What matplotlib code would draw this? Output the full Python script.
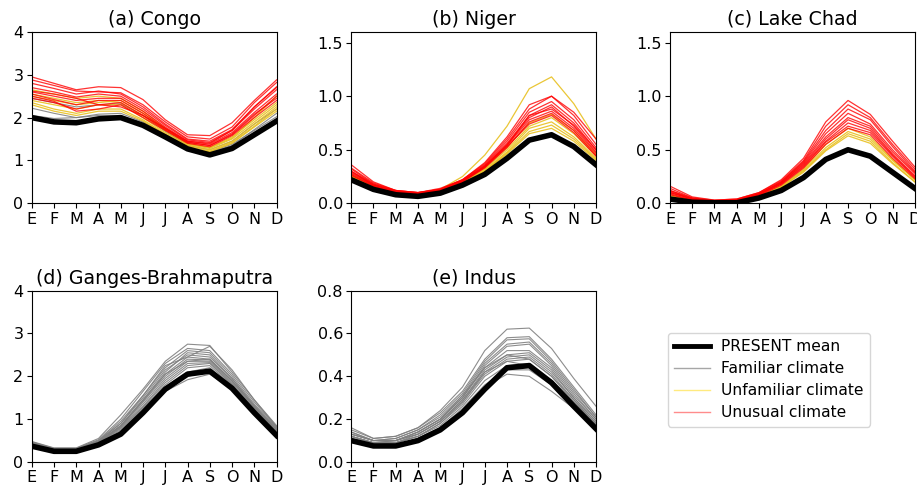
import matplotlib
matplotlib.use("Agg")
import matplotlib.pyplot as plt

#####################################
##          DATA                   ##
#####################################
months = ["E", "F", "M", "A", "M", "J", "J", "A", "S", "O", "N", "D"]

# (a) Congo
congo_present = [2.0, 1.9, 1.88, 1.97, 2.0, 1.82, 1.55, 1.27, 1.13, 1.28, 1.6, 1.92]
congo_familiar = [
    [2.22, 2.1, 2.0, 2.08, 2.1, 1.9, 1.6, 1.3, 1.18, 1.35, 1.72, 2.1],
    [2.05, 1.98, 2.0, 2.05, 2.05, 1.85, 1.58, 1.28, 1.2, 1.38, 1.7, 2.02],
    [2.45, 2.35, 2.25, 2.3, 2.32, 2.05, 1.68, 1.35, 1.25, 1.45, 1.85, 2.2],
]
congo_unfamiliar = [
    [2.65, 2.55, 2.45, 2.5, 2.45, 2.15, 1.75, 1.4, 1.3, 1.55, 1.95, 2.35],
    [2.55, 2.45, 2.35, 2.4, 2.35, 2.05, 1.7, 1.38, 1.28, 1.5, 1.9, 2.3],
    [2.4, 2.3, 2.2, 2.3, 2.3, 2.0, 1.65, 1.35, 1.25, 1.45, 1.85, 2.25],
    [2.35, 2.2, 2.1, 2.2, 2.2, 1.95, 1.62, 1.33, 1.22, 1.42, 1.8, 2.2],
    [2.3, 2.15, 2.05, 2.15, 2.15, 1.92, 1.6, 1.3, 1.2, 1.4, 1.78, 2.15],
    [2.5, 2.4, 2.3, 2.35, 2.4, 2.1, 1.72, 1.38, 1.3, 1.52, 2.0, 2.5],
]
congo_unusual = [
    [2.95, 2.8, 2.65, 2.72, 2.7, 2.42, 1.95, 1.6, 1.58, 1.88, 2.4, 2.88],
    [2.88, 2.75, 2.62, 2.6, 2.58, 2.3, 1.9, 1.55, 1.5, 1.78, 2.35, 2.82],
    [2.8, 2.68, 2.55, 2.62, 2.55, 2.25, 1.85, 1.5, 1.45, 1.72, 2.25, 2.72],
    [2.7, 2.6, 2.48, 2.55, 2.5, 2.2, 1.82, 1.48, 1.42, 1.7, 2.2, 2.65],
    [2.6, 2.5, 2.4, 2.45, 2.45, 2.15, 1.78, 1.45, 1.38, 1.65, 2.12, 2.55],
    [2.55, 2.42, 2.3, 2.4, 2.4, 2.1, 1.75, 1.43, 1.35, 1.6, 2.05, 2.5],
    [2.45, 2.35, 2.2, 2.3, 2.35, 2.05, 1.72, 1.42, 1.35, 1.62, 2.08, 2.45],
    [2.62, 2.55, 2.45, 2.3, 2.25, 2.05, 1.75, 1.45, 1.4, 1.7, 2.25, 2.7],
    [2.5, 2.38, 2.15, 2.2, 2.3, 2.0, 1.7, 1.4, 1.32, 1.58, 2.0, 2.4],
]

# (b) Niger
niger_present = [0.22, 0.13, 0.08, 0.065, 0.095, 0.17, 0.27, 0.42, 0.59, 0.64, 0.53, 0.36]
niger_unfamiliar = [
    [0.25, 0.15, 0.1, 0.09, 0.13, 0.25, 0.45, 0.72, 1.07, 1.18, 0.93, 0.6],
    [0.26, 0.15, 0.1, 0.09, 0.12, 0.19, 0.32, 0.5, 0.72, 0.8, 0.65, 0.44],
    [0.25, 0.15, 0.1, 0.08, 0.12, 0.19, 0.31, 0.48, 0.7, 0.76, 0.62, 0.42],
    [0.25, 0.14, 0.09, 0.08, 0.11, 0.19, 0.3, 0.47, 0.67, 0.73, 0.6, 0.41],
    [0.24, 0.14, 0.09, 0.08, 0.11, 0.18, 0.3, 0.46, 0.65, 0.7, 0.58, 0.4],
    [0.27, 0.16, 0.1, 0.09, 0.12, 0.2, 0.33, 0.52, 0.75, 0.83, 0.68, 0.46],
]
niger_unusual = [
    [0.36, 0.2, 0.12, 0.1, 0.14, 0.22, 0.38, 0.62, 0.92, 1.0, 0.85, 0.6],
    [0.33, 0.19, 0.12, 0.1, 0.13, 0.22, 0.37, 0.6, 0.88, 1.0, 0.82, 0.55],
    [0.3, 0.18, 0.11, 0.1, 0.13, 0.22, 0.36, 0.58, 0.85, 0.95, 0.78, 0.52],
    [0.3, 0.17, 0.11, 0.09, 0.13, 0.21, 0.35, 0.56, 0.82, 0.92, 0.75, 0.5],
    [0.28, 0.17, 0.11, 0.09, 0.12, 0.21, 0.35, 0.55, 0.8, 0.9, 0.72, 0.48],
    [0.27, 0.16, 0.1, 0.09, 0.12, 0.2, 0.34, 0.54, 0.78, 0.86, 0.7, 0.47],
    [0.26, 0.16, 0.1, 0.09, 0.12, 0.2, 0.33, 0.52, 0.76, 0.84, 0.68, 0.45],
    [0.29, 0.17, 0.11, 0.09, 0.12, 0.21, 0.34, 0.53, 0.74, 0.82, 0.66, 0.44],
    [0.32, 0.18, 0.12, 0.1, 0.13, 0.21, 0.34, 0.54, 0.82, 0.88, 0.73, 0.5],
]

# (c) Lake Chad
chad_present = [0.04, 0.01, 0.005, 0.005, 0.05, 0.12, 0.24, 0.41, 0.5, 0.44, 0.29, 0.14]
chad_unfamiliar = [
    [0.07, 0.03, 0.01, 0.02, 0.07, 0.16, 0.31, 0.52, 0.67, 0.6, 0.4, 0.22],
    [0.06, 0.02, 0.01, 0.02, 0.06, 0.15, 0.3, 0.5, 0.65, 0.58, 0.38, 0.2],
    [0.06, 0.02, 0.01, 0.02, 0.06, 0.15, 0.29, 0.49, 0.63, 0.56, 0.37, 0.2],
    [0.08, 0.03, 0.02, 0.02, 0.07, 0.16, 0.32, 0.55, 0.7, 0.62, 0.41, 0.22],
]
chad_unusual = [
    [0.16, 0.06, 0.03, 0.04, 0.1, 0.22, 0.42, 0.76, 0.96, 0.83, 0.58, 0.34],
    [0.14, 0.05, 0.03, 0.04, 0.1, 0.21, 0.4, 0.72, 0.92, 0.8, 0.55, 0.32],
    [0.12, 0.05, 0.02, 0.03, 0.09, 0.2, 0.39, 0.68, 0.88, 0.78, 0.53, 0.3],
    [0.12, 0.04, 0.02, 0.03, 0.09, 0.2, 0.38, 0.65, 0.84, 0.74, 0.5, 0.29],
    [0.11, 0.04, 0.02, 0.03, 0.09, 0.19, 0.37, 0.62, 0.8, 0.72, 0.48, 0.28],
    [0.1, 0.04, 0.02, 0.03, 0.08, 0.19, 0.36, 0.6, 0.78, 0.7, 0.46, 0.26],
    [0.1, 0.04, 0.02, 0.03, 0.08, 0.18, 0.35, 0.58, 0.75, 0.68, 0.45, 0.25],
    [0.09, 0.03, 0.02, 0.03, 0.08, 0.18, 0.34, 0.57, 0.72, 0.66, 0.44, 0.24],
    [0.08, 0.03, 0.02, 0.02, 0.07, 0.17, 0.33, 0.55, 0.7, 0.64, 0.42, 0.23],
]

# (d) Ganges-Brahmaputra
ganges_present = [0.37, 0.25, 0.25, 0.4, 0.65, 1.15, 1.7, 2.05, 2.12, 1.72, 1.15, 0.62]
ganges_familiar = [
    [0.48, 0.33, 0.33, 0.55, 1.1, 1.7, 2.35, 2.75, 2.72, 2.1, 1.45, 0.85],
    [0.47, 0.32, 0.32, 0.52, 1.0, 1.65, 2.3, 2.65, 2.6, 2.05, 1.4, 0.82],
    [0.46, 0.31, 0.31, 0.5, 0.95, 1.55, 2.2, 2.6, 2.55, 2.0, 1.35, 0.8],
    [0.45, 0.3, 0.3, 0.48, 0.9, 1.5, 2.15, 2.5, 2.45, 1.95, 1.32, 0.78],
    [0.44, 0.3, 0.3, 0.47, 0.85, 1.45, 2.05, 2.45, 2.4, 1.9, 1.3, 0.76],
    [0.43, 0.29, 0.29, 0.46, 0.82, 1.4, 2.0, 2.4, 2.38, 1.88, 1.28, 0.74],
    [0.42, 0.28, 0.29, 0.45, 0.8, 1.35, 1.95, 2.35, 2.35, 1.85, 1.25, 0.72],
    [0.41, 0.28, 0.28, 0.44, 0.78, 1.3, 1.9, 2.3, 2.32, 1.82, 1.22, 0.7],
    [0.4, 0.27, 0.28, 0.43, 0.75, 1.28, 1.85, 2.25, 2.3, 1.8, 1.2, 0.68],
    [0.39, 0.27, 0.27, 0.42, 0.72, 1.25, 1.8, 2.2, 2.25, 1.78, 1.18, 0.66],
    [0.38, 0.26, 0.27, 0.41, 0.7, 1.2, 1.75, 2.1, 2.2, 1.75, 1.15, 0.64],
    [0.37, 0.26, 0.26, 0.4, 0.68, 1.15, 1.7, 2.0, 2.1, 1.72, 1.12, 0.62],
    [0.36, 0.25, 0.26, 0.39, 0.65, 1.1, 1.65, 1.92, 2.05, 1.7, 1.1, 0.6],
    [0.44, 0.3, 0.3, 0.5, 0.9, 1.55, 2.25, 2.45, 2.7, 2.15, 1.45, 0.82],
    [0.43, 0.29, 0.3, 0.47, 0.85, 1.45, 2.1, 2.55, 2.5, 1.95, 1.3, 0.75],
    [0.42, 0.29, 0.29, 0.46, 0.84, 1.42, 2.05, 2.35, 2.4, 1.9, 1.27, 0.73],
]

# (e) Indus
indus_present = [0.1, 0.075, 0.075, 0.1, 0.15, 0.23, 0.34, 0.44, 0.45, 0.37, 0.26, 0.155]
indus_familiar = [
    [0.16, 0.11, 0.12, 0.16, 0.24, 0.35, 0.52, 0.62, 0.625, 0.53, 0.39, 0.26],
    [0.15, 0.11, 0.12, 0.16, 0.23, 0.33, 0.48, 0.58, 0.585, 0.48, 0.35, 0.22],
    [0.14, 0.1, 0.11, 0.15, 0.22, 0.32, 0.47, 0.57, 0.575, 0.47, 0.34, 0.21],
    [0.14, 0.1, 0.11, 0.15, 0.21, 0.31, 0.46, 0.55, 0.56, 0.46, 0.33, 0.21],
    [0.13, 0.1, 0.1, 0.14, 0.2, 0.3, 0.45, 0.54, 0.55, 0.45, 0.32, 0.2],
    [0.13, 0.1, 0.1, 0.14, 0.2, 0.3, 0.44, 0.52, 0.52, 0.44, 0.31, 0.2],
    [0.12, 0.09, 0.1, 0.13, 0.19, 0.29, 0.43, 0.5, 0.51, 0.43, 0.3, 0.19],
    [0.12, 0.09, 0.1, 0.13, 0.19, 0.28, 0.42, 0.49, 0.5, 0.42, 0.3, 0.19],
    [0.12, 0.09, 0.09, 0.12, 0.18, 0.28, 0.41, 0.48, 0.49, 0.41, 0.29, 0.18],
    [0.11, 0.09, 0.09, 0.12, 0.18, 0.27, 0.4, 0.47, 0.48, 0.4, 0.28, 0.18],
    [0.11, 0.08, 0.09, 0.12, 0.17, 0.26, 0.38, 0.45, 0.46, 0.38, 0.27, 0.17],
    [0.11, 0.08, 0.08, 0.11, 0.16, 0.25, 0.36, 0.43, 0.43, 0.36, 0.26, 0.17],
    [0.1, 0.08, 0.08, 0.11, 0.16, 0.24, 0.35, 0.41, 0.4, 0.33, 0.25, 0.16],
    [0.13, 0.1, 0.1, 0.14, 0.2, 0.31, 0.44, 0.5, 0.48, 0.4, 0.29, 0.18],
    [0.12, 0.09, 0.09, 0.13, 0.19, 0.29, 0.42, 0.47, 0.45, 0.38, 0.28, 0.17],
]

#####################################
##            Plot                 ##
#####################################
FS = 11.5
col_fam = "grey"
col_unf = "#e8c020"
col_unu = "red"

fig = plt.figure(figsize=(9.17, 4.87), dpi=100)
w, h = 0.267, 0.352
ax_a = fig.add_axes([0.0346, 0.5825, w, h])
ax_b = fig.add_axes([0.383, 0.5825, w, h])
ax_c = fig.add_axes([0.7306, 0.5825, w, h])
ax_d = fig.add_axes([0.0346, 0.0513, w, h])
ax_e = fig.add_axes([0.383, 0.0513, w, h])

x = list(range(12))


def draw(ax, title, present, ylim, yticks, familiar=(), unfamiliar=(), unusual=()):
    for s in familiar:
        ax.plot(x, s, color=col_fam, lw=0.8, alpha=0.9)
    for s in unfamiliar:
        ax.plot(x, s, color=col_unf, lw=0.9, alpha=0.9)
    for s in unusual:
        ax.plot(x, s, color=col_unu, lw=0.9, alpha=0.8)
    ax.plot(x, present, color="black", lw=4, zorder=5)
    ax.set_xlim(0, 11)
    ax.set_ylim(*ylim)
    ax.set_yticks(yticks)
    ax.set_xticks(x)
    ax.set_xticklabels(months)
    ax.tick_params(labelsize=FS, pad=2.5)
    ax.set_title(title, fontsize=13.7, pad=5)


draw(ax_a, "(a) Congo", congo_present, (0, 4), [0, 1, 2, 3, 4],
     congo_familiar, congo_unfamiliar, congo_unusual)
draw(ax_b, "(b) Niger", niger_present, (0, 1.6), [0.0, 0.5, 1.0, 1.5],
     (), niger_unfamiliar, niger_unusual)
draw(ax_c, "(c) Lake Chad", chad_present, (0, 1.6), [0.0, 0.5, 1.0, 1.5],
     (), chad_unfamiliar, chad_unusual)
draw(ax_d, "(d) Ganges-Brahmaputra", ganges_present, (0, 4), [0, 1, 2, 3, 4],
     ganges_familiar)
draw(ax_e, "(e) Indus", indus_present, (0, 0.8), [0.0, 0.2, 0.4, 0.6, 0.8],
     indus_familiar)
ax_b.set_yticklabels(["0.0", "0.5", "1.0", "1.5"])
ax_c.set_yticklabels(["0.0", "0.5", "1.0", "1.5"])

# legend
handles = [
    plt.Line2D([], [], color="black", lw=3.5),
    plt.Line2D([], [], color="grey", lw=1, alpha=0.7),
    plt.Line2D([], [], color="gold", lw=1, alpha=0.5),
    plt.Line2D([], [], color="red", lw=1, alpha=0.45),
]
labels = ["PRESENT mean", "Familiar climate", "Unfamiliar climate", "Unusual climate"]
fig.legend(handles, labels, loc="upper left", bbox_to_anchor=(0.7285, 0.316),
           borderaxespad=0, fontsize=11.2, handlelength=2.3, labelspacing=0.45,
           borderpad=0.4, handletextpad=0.7)

plt.savefig("out.png", dpi=100)
